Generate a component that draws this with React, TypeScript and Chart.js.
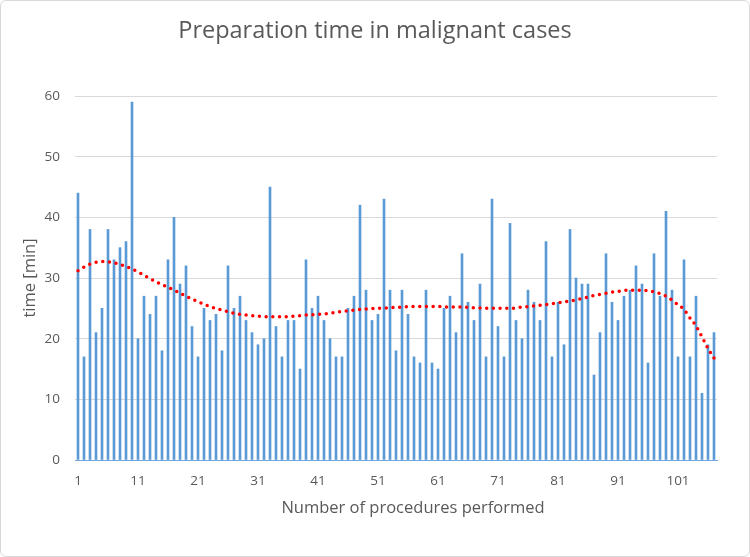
import React, { useEffect, useRef } from "react";
import { Chart, registerables } from "chart.js";

Chart.register(...registerables);

const categories: string[] = Array.from({ length: 107 }, (_, i) => String(i + 1));

const prepTimes: number[] = [
  44, 17, 38, 21, 25, 38, 33, 35, 36, 59,
  20, 27, 24, 27, 18, 33, 40, 29, 32, 22,
  17, 25, 23, 24, 18, 32, 25, 27, 23, 21,
  19, 20, 45, 22, 17, 23, 23, 15, 33, 25,
  27, 23, 20, 17, 17, 25, 27, 42, 28, 23,
  24, 43, 28, 18, 28, 24, 17, 16, 28, 16,
  15, 25, 27, 21, 34, 26, 23, 29, 17, 43,
  22, 17, 39, 23, 20, 28, 26, 23, 36, 17,
  26, 19, 38, 30, 29, 29, 14, 21, 34, 26,
  23, 27, 28, 32, 29, 16, 34, 27, 41, 28,
  17, 33, 17, 27, 11, 19, 21,
];

const trendAt: string[] = [
  "1", "3", "5", "7", "9", "11", "13", "15", "17", "19", "21", "23", "25", "27", "29",
  "31", "33", "35", "37", "39", "41", "43", "45", "47", "49", "51", "53", "55", "57",
  "59", "61", "63", "65", "67", "69", "71", "73", "75", "77", "79", "81", "83", "85",
  "87", "89", "91", "93", "95", "97", "99", "101", "102", "103", "104", "105", "106", "107",
];
const trendValues: number[] = [
  31.2, 32.3, 32.7, 32.5, 31.9, 31.0, 29.9, 28.9, 28.0, 27.0, 26.1, 25.3, 24.7, 24.2, 23.9,
  23.7, 23.6, 23.6, 23.7, 23.9, 24.0, 24.2, 24.5, 24.7, 24.9, 25.0, 25.1, 25.2, 25.3,
  25.3, 25.3, 25.2, 25.2, 25.1, 25.0, 25.0, 25.0, 25.2, 25.4, 25.6, 25.9, 26.2, 26.6,
  27.1, 27.5, 27.8, 28.0, 28.0, 27.7, 27.0, 25.6, 24.8, 23.4, 22.1, 20.3, 18.4, 16.8,
];

const yTicks: number[] = [0, 10, 20, 30, 40, 50, 60];

const CHART_TITLE = "Preparation time in malignant cases";
const X_TITLE = "Number of procedures performed";
const Y_TITLE = "time [min]";

const FONT = "'Open Sans', 'Noto Sans', sans-serif";
const TEXT = "#595959";
const BAR = "#5B9BD5";

const titlesPlugin = {
  id: "excelTitles",
  afterDraw(chart: any) {
    const ctx = chart.ctx as CanvasRenderingContext2D;
    ctx.save();
    ctx.fillStyle = TEXT;
    ctx.textAlign = "center";
    ctx.textBaseline = "alphabetic";
    ctx.font = `23.5px ${FONT}`;
    ctx.fillText(CHART_TITLE, chart.width / 2, 38);
    ctx.font = `16.5px ${FONT}`;
    ctx.fillText(X_TITLE, chart.chartArea.left + (chart.chartArea.right - chart.chartArea.left) / 2 + 17, 513);
    ctx.restore();
  },
};

export default function App() {
  const ref = useRef<HTMLCanvasElement | null>(null);

  useEffect(() => {
    if (!ref.current) return;
    const chart = new Chart(ref.current, {
      type: "bar",
      data: {
        labels: categories,
        datasets: [
          {
            type: "line",
            label: "trend",
            data: trendAt.map((x, i) => ({ x, y: trendValues[i] })) as any,
            borderColor: "#FF0000",
            borderWidth: 3.5,
            borderDash: [0, 6.7],
            borderCapStyle: "round",
            pointRadius: 0,
            fill: false,
            tension: 0.4,
            cubicInterpolationMode: "monotone",
            order: 0,
          } as any,
          {
            type: "bar",
            label: "time",
            data: prepTimes,
            backgroundColor: BAR,
            barThickness: 2,
            order: 1,
          },
        ],
      },
      plugins: [titlesPlugin],
      options: {
        animation: false,
        responsive: false,
        maintainAspectRatio: false,
        layout: { padding: { left: 0, right: 33, top: 96, bottom: 37 } },
        plugins: {
          legend: { display: false },
          tooltip: { enabled: false },
          title: { display: false },
        },
        scales: {
          x: {
            type: "category",
            afterFit: (s: any) => {
              s.height = 60;
            },
            grid: { display: false, drawTicks: false },
            border: { display: true, color: "#6FA6DC", width: 1 },
            ticks: {
              autoSkip: false,
              maxRotation: 0,
              minRotation: 0,
              padding: 13,
              color: TEXT,
              font: { family: FONT, size: 13.5 },
              callback: (_v: any, idx: number) => (idx % 10 === 0 ? categories[idx] : ""),
            },
            title: { display: false },
          },
          y: {
            min: yTicks[0],
            max: yTicks[yTicks.length - 1],
            afterFit: (s: any) => {
              s.width = 75;
            },
            afterBuildTicks: (s: any) => {
              s.ticks = yTicks.map((v) => ({ value: v }));
            },
            grid: {
              drawTicks: false,
              color: (c: any) => (c.tick && c.tick.value === 0 ? "#6FA6DC" : "#D9D9D9"),
              lineWidth: 1,
            },
            border: { display: false },
            ticks: {
              padding: 15,
              color: TEXT,
              font: { family: FONT, size: 13.5 },
            },
            title: {
              display: true,
              text: Y_TITLE,
              color: TEXT,
              font: { family: FONT, size: 16.5 },
              padding: { top: 20, bottom: 0 },
            },
          },
        },
      },
    });
    return () => chart.destroy();
  }, []);

  return (
    <div style={{ position: "absolute", left: 0, top: 0, width: 750, height: 557 }}>
      <canvas ref={ref} width={750} height={557} style={{ display: "block" }} />
      <div
        style={{
          position: "absolute",
          left: 0,
          top: 0,
          width: 750,
          height: 557,
          boxSizing: "border-box",
          border: "1.5px solid #D9D9D9",
          borderRadius: 6,
          pointerEvents: "none",
        }}
      />
    </div>
  );
}
